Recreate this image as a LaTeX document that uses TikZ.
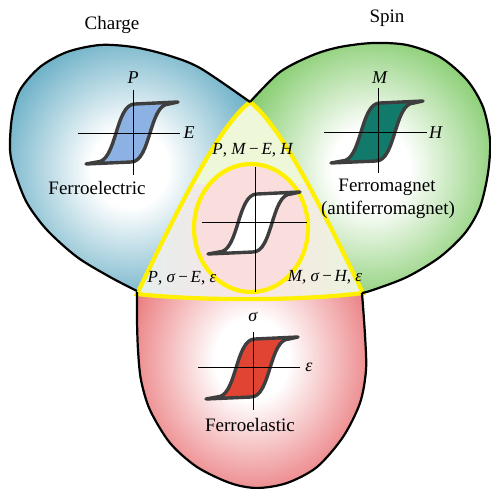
\documentclass[tikz,border=0pt]{standalone}
\usepackage{fontspec}
\setmainfont{Liberation Serif}
\definecolor{bluelobe}{RGB}{48,144,176}
\definecolor{greenlobe}{RGB}{84,184,52}
\definecolor{redlobe}{RGB}{226,70,74}
\definecolor{yellowline}{RGB}{255,240,0}
\definecolor{loopgray}{RGB}{62,62,62}
\definecolor{fillblue}{RGB}{140,178,228}
\definecolor{fillteal}{RGB}{18,122,106}
\definecolor{fillred}{RGB}{226,68,52}
\definecolor{topgreen}{RGB}{238,247,216}
\definecolor{palepink}{RGB}{251,228,228}
\definecolor{paleblue}{RGB}{226,240,238}
\definecolor{palegreen}{RGB}{232,246,222}
\definecolor{circpink}{RGB}{250,222,222}
\pgfdeclareradialshading{shBlue}{\pgfpoint{0bp}{0bp}}{color(0bp)=(white); color(8bp)=(white); color(36bp)=(bluelobe); color(50bp)=(bluelobe)}
\pgfdeclareradialshading{shGreen}{\pgfpoint{0bp}{0bp}}{color(0bp)=(white); color(8bp)=(white); color(36bp)=(greenlobe); color(50bp)=(greenlobe)}
\pgfdeclareradialshading{shRed}{\pgfpoint{0bp}{0bp}}{color(0bp)=(white); color(8bp)=(white); color(36bp)=(redlobe); color(50bp)=(redlobe)}
\newcommand\hyst[3]{%
  \begin{scope}[shift={(#1,#2)}]
    \filldraw[loopline, fill=#3] (-47,31) -- (-36,29) .. controls (-16,29) and (-18,-29) .. (2,-29) -- (45,-31) -- (36,-29) .. controls (16,-29) and (18,29) .. (-2,29) -- cycle;
  \end{scope}}
\begin{document}
\begin{tikzpicture}[x=1pt,y=-1pt,
  outline/.style={line width=2.2pt, black},
  yel/.style={draw=yellowline, line width=4.2pt},
  loopline/.style={draw=loopgray, line width=3.4pt, line join=round, line cap=round},
  axis/.style={line width=0.9pt, black},
  lbl/.style={font=\fontsize{19}{22}\selectfont, inner sep=0pt},
  mlbl/.style={font=\fontsize{18}{21}\selectfont, inner sep=0pt},
  olbl/.style={font=\fontsize{17}{20}\selectfont, inner sep=0pt}]
\useasboundingbox (0,0) rectangle (491,489);
% lobes (shaded)
\shade[shading=shBlue] plot[smooth] coordinates {(250,102) (200,68) (167,55) (133,47) (100,45) (67,52) (40,67) (20,90) (12,117) (10,150) (15,173) (27,203) (47,230) (77,257) (110,277) (137,291)} -- (250,230) -- cycle;
\shade[shading=shGreen] plot[smooth] coordinates {(250,102) (280,72) (313,55) (340,47) (373,43) (407,45) (440,57) (467,80) (483,107) (490,140) (488,173) (480,207) (465,233) (440,257) (407,277) (373,290) (362,293)} -- (250,230) -- cycle;
\shade[shading=shRed] plot[smooth] coordinates {(137,292) (137,320) (138,350) (141,380) (150,410) (170,443) (197,467) (230,483) (257,488) (287,483) (317,467) (343,437) (360,403) (366,370) (365,335) (362,293)} -- (250,230) -- cycle;
% central triangle
\begin{scope}
  \clip (250,102) .. controls (218,126) and (175,215) .. (137,294) .. controls (200,301) and (300,301) .. (363,293) .. controls (325,215) and (282,126) .. (250,102) -- cycle;
  \shade[left color=paleblue, right color=palegreen, middle color=palepink] (130,95) rectangle (370,305);
  \fill[topgreen] (130,95) rectangle (370,184);
\end{scope}
\path[yel] (250,102) .. controls (218,126) and (175,215) .. (137,294) .. controls (200,301) and (300,301) .. (363,293) .. controls (325,215) and (282,126) .. (250,102) -- cycle;
\path[yel, fill=circpink] (251,228) ellipse [x radius=57pt, y radius=64pt];
% lobe outlines
\draw[outline] plot[smooth] coordinates {(250,102) (200,68) (167,55) (133,47) (100,45) (67,52) (40,67) (20,90) (12,117) (10,150) (15,173) (27,203) (47,230) (77,257) (110,277) (137,291)};
\draw[outline] plot[smooth] coordinates {(250,102) (280,72) (313,55) (340,47) (373,43) (407,45) (440,57) (467,80) (483,107) (490,140) (488,173) (480,207) (465,233) (440,257) (407,277) (373,290) (362,293)};
\draw[outline] plot[smooth] coordinates {(137,292) (137,320) (138,350) (141,380) (150,410) (170,443) (197,467) (230,483) (257,488) (287,483) (317,467) (343,437) (360,403) (366,370) (365,335) (362,293)};
% loops
\hyst{133}{133}{fillblue}
\draw[axis] (133,90) -- (133,175); \draw[axis] (78,133) -- (180,133);
\hyst{378}{132}{fillteal}
\draw[axis] (378,88) -- (378,173); \draw[axis] (324,132) -- (427,132);
\hyst{253}{368}{fillred}
\draw[axis] (253,332) -- (253,410); \draw[axis] (198,367) -- (300,367);
\hyst{255}{223}{white}
\draw[axis] (255,167) -- (255,292); \draw[axis] (202,222) -- (307,222);
% texts
\node[lbl] (charge) at (112,25) {Charge};
\node[lbl] (spin) at (387,18) {Spin};
\node[lbl] (fe) at (97,188) {Ferroelectric};
\node[lbl] (fm) at (387,187) {Ferromagnet};
\node[lbl] (afm) at (388,210) {(antiferromagnet)};
\node[lbl] (fel) at (250,425) {Ferroelastic};
\node[mlbl] (lP) at (133,78) {\textit{P}};
\node[mlbl] (lE) at (189,133) {\textit{E}};
\node[mlbl] (lM) at (380,78) {\textit{M}};
\node[mlbl] (lH) at (436,133) {\textit{H}};
\node[mlbl] (ls) at (253,317) {\textit{σ}};
\node[mlbl] (le) at (309,367) {\textit{ε}};
\node[olbl] (pm) at (253,150) {\textit{P}, \textit{M}\,−\,\textit{E}, \textit{H}};
\node[olbl] (ps) at (182,278) {\textit{P}, \textit{σ}\,−\,\textit{E}, \textit{ε}};
\node[olbl] (ms) at (325,277) {\textit{M}, \textit{σ}\,−\,\textit{H}, \textit{ε}};
\end{tikzpicture}
\end{document}
